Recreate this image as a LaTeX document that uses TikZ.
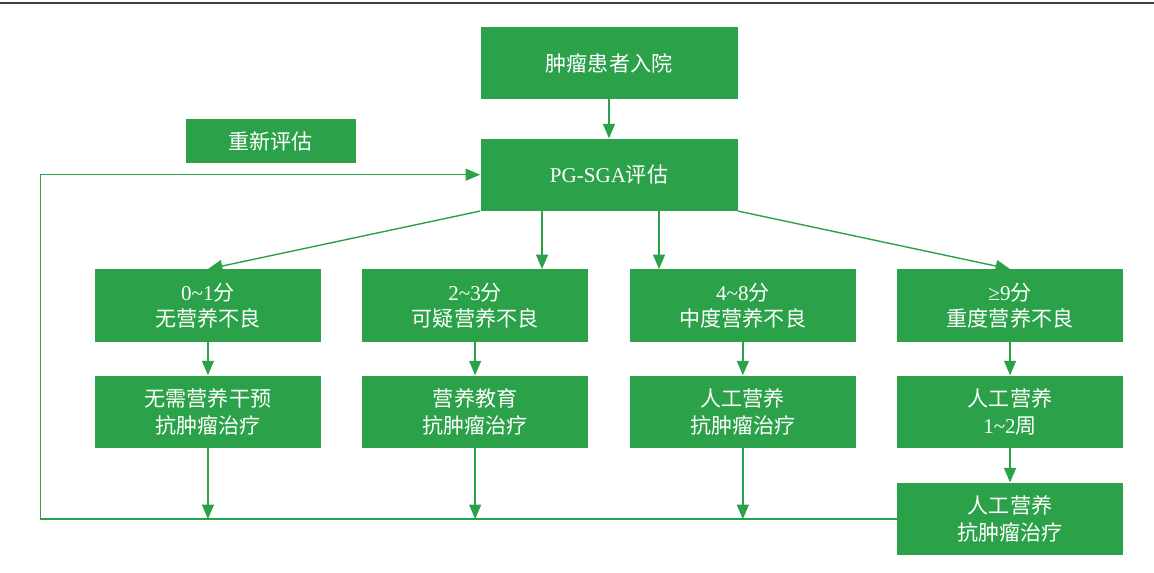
\documentclass[tikz,border=0pt]{standalone}
\usepackage{fontspec}
\setmainfont{Liberation Serif}
\newfontfamily\cjk{Noto Sans CJK SC}
\usetikzlibrary{arrows.meta,positioning}
\definecolor{flowgreen}{RGB}{43,161,73}
\newcommand{\zh}[1]{{\cjk #1}}

\begin{document}
\begin{tikzpicture}[
  node distance=0.66cm and 0.81cm,
  every node/.style={font=\fontsize{12}{15}\selectfont},
  gbox/.style={fill=flowgreen,text=white,inner sep=0pt,minimum width=4.52cm,minimum height=1.45cm,align=center},
  widebox/.style={gbox,minimum width=5.14cm,minimum height=1.44cm},
  notebox/.style={gbox,minimum width=3.4cm,minimum height=0.89cm},
  edge/.style={->,color=flowgreen,line width=0.8pt},
  >={Triangle[length=2.9mm,width=2.4mm]}
]
\useasboundingbox (0,0) rectangle (23.08,-11.46);
\draw[line width=1.2pt,black!75] (0,-0.06) -- (23.08,-0.06);

\node[widebox] (admit) at (12.18,-1.26) {\zh{肿瘤患者入院}};
\node[widebox,below=0.78cm of admit] (pgsga) {PG-SGA\zh{评估}};
\node[notebox,left=2.48cm of pgsga,yshift=0.67cm] (again) {\zh{重新评估}};

\node[gbox,below left=1.16cm and 0.41cm of pgsga.south] (suspect) {2\textasciitilde3\zh{分}\\\zh{可疑营养不良}};
\node[gbox,below right=1.16cm and 0.41cm of pgsga.south] (moderate) {4\textasciitilde8\zh{分}\\\zh{中度营养不良}};
\node[gbox,left=of suspect] (none) {0\textasciitilde1\zh{分}\\\zh{无营养不良}};
\node[gbox,right=of moderate] (severe) {≥9\zh{分}\\\zh{重度营养不良}};

\node[gbox,below=of none] (noneplan) {\zh{无需营养干预}\\\zh{抗肿瘤治疗}};
\node[gbox,below=of suspect] (suspectplan) {\zh{营养教育}\\\zh{抗肿瘤治疗}};
\node[gbox,below=of moderate] (moderateplan) {\zh{人工营养}\\\zh{抗肿瘤治疗}};
\node[gbox,below=of severe] (severeplan) {\zh{人工营养}\\1\textasciitilde2\zh{周}};
\node[gbox,below=0.68cm of severeplan] (severecont) {\zh{人工营养}\\\zh{抗肿瘤治疗}};

\coordinate (tapB) at ([xshift=-1.34cm]pgsga.south);
\coordinate (tapC) at ([xshift=1cm]pgsga.south);
\coordinate (loopx) at (0.81,0);

\draw[edge] (admit) -- (pgsga);
\draw[edge] (pgsga.south west) -- (none.north);
\draw[edge] (tapB) -- (tapB |- suspect.north);
\draw[edge] (tapC) -- (tapC |- moderate.north);
\draw[edge] (pgsga.south east) -- (severe.north);

\draw[edge] (none) -- (noneplan);
\draw[edge] (suspect) -- (suspectplan);
\draw[edge] (moderate) -- (moderateplan);
\draw[edge] (severe) -- (severeplan);
\draw[edge] (severeplan) -- (severecont);

% back to assessment
\draw[edge] (noneplan) -- (noneplan |- severecont.west);
\draw[edge] (suspectplan) -- (suspectplan |- severecont.west);
\draw[edge] (moderateplan) -- (moderateplan |- severecont.west);
\draw[edge] (severecont.west) -- (severecont.west -| loopx) |- (pgsga.west);
\end{tikzpicture}
\end{document}
